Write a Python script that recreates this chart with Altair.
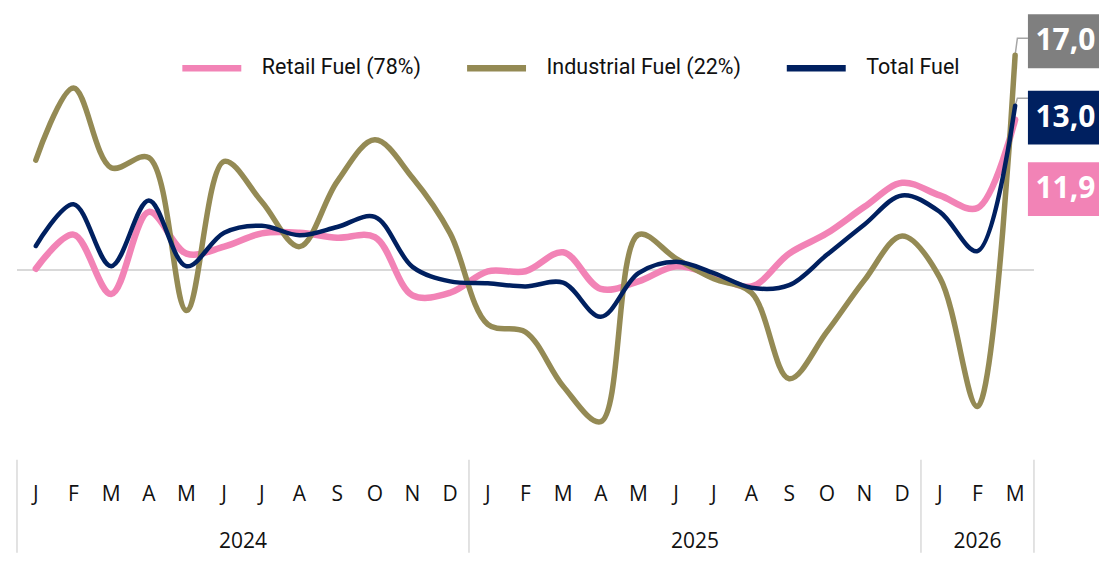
import altair as alt
import pandas as pd

# ---------------- data ----------------
months = ["J", "F", "M", "A", "M", "J", "J", "A", "S", "O", "N", "D",
          "J", "F", "M", "A", "M", "J", "J", "A", "S", "O", "N", "D",
          "J", "F", "M"]
years = ["2024", "2025", "2026"]
year_month_counts = [12, 12, 3]

series_names = ["Retail Fuel (78%)", "Industrial Fuel (22%)", "Total Fuel"]

retail = [0.1, 2.8, -1.9, 4.6, 1.3, 1.85, 2.9, 2.95, 2.55, 2.6, -2.0, -1.8,
          -0.1, -0.1, 1.4, -1.5, -0.9, 0.3, -0.4, -1.3, 1.3, 2.9, 5.0, 6.9,
          5.9, 4.9, 11.9]
industrial = [8.7, 14.4, 8.1, 8.9, -3.2, 8.6, 5.4, 1.85, 7.0, 10.3, 7.3, 2.9,
              -4.3, -4.9, -9.2, -12.0, 2.8, 0.9, -0.7, -1.8, -8.6, -4.9, -0.8, 2.7,
              -0.6, -10.8, 17.0]
total = [1.9, 5.2, 0.3, 5.5, 0.3, 2.95, 3.5, 2.75, 3.4, 4.2, 0.25, -0.9,
         -1.05, -1.3, -1.0, -3.7, -0.25, 0.65, -0.25, -1.4, -1.2, 1.2, 3.6, 5.9,
         4.6, 1.5, 13.0]

# ---------------- styles / layout ----------------
colors = ["#F283B6", "#948A54", "#002060"]
box_colors = ["#F283B6", "#7F7F7F", "#002060"]
widths = [6.5, 4.5, 5.0]

W, H = 1083, 545
step = 37.7
x_min = -0.5
x_max = x_min + W / step
px_per_unit = 12.65
zero_px = 262
y_max = zero_px / px_per_unit
y_min = -(H - zero_px) / px_per_unit

xscale = alt.Scale(domain=[x_min, x_max], nice=False, zero=False)
yscale = alt.Scale(domain=[y_min, y_max], nice=False, zero=False)

values = [retail, industrial, total]
rows = []
for name, vals in zip(series_names, values):
    for i, v in enumerate(vals):
        rows.append({"idx": i, "value": v, "series": name})
df = pd.DataFrame(rows)

n = len(months)
last = n - 1

X = lambda f: alt.X(f, scale=xscale, axis=None)
Y = lambda f: alt.Y(f, scale=yscale, axis=None)

# zero line
zero = alt.Chart(pd.DataFrame({"x": [x_min], "x2": [last + 0.5], "y": [0]})).mark_rule(
    color="#D9D9D9", strokeWidth=2
).encode(x=X("x:Q"), x2="x2:Q", y=Y("y:Q"))

# lines
lines = alt.Chart(df).mark_line(
    interpolate="catmull-rom", strokeCap="round", strokeJoin="round"
).encode(
    x=X("idx:Q"),
    y=Y("value:Q"),
    color=alt.Color(
        "series:N",
        scale=alt.Scale(domain=series_names, range=colors),
        sort=series_names,
        legend=alt.Legend(
            title=None, orient="none", direction="horizontal",
            legendX=162, legendY=27,
            symbolType="stroke", symbolSize=3481, symbolStrokeWidth=6.5,
            labelFont="Roboto", labelFontSize=21.5, labelColor="#111111",
            labelOffset=17, columnPadding=32, labelLimit=400,
        ),
    ),
    strokeWidth=alt.StrokeWidth(
        "series:N",
        scale=alt.Scale(domain=series_names, range=widths),
        legend=None,
    ),
)

# separators for the year groups
bounds = [x_min]
acc = -0.5
for c in year_month_counts:
    acc += c
    bounds.append(acc)
sep = alt.Chart(pd.DataFrame({"x": bounds})).mark_rule(
    color="#D9D9D9", strokeWidth=1.5
).encode(x=X("x:Q"), y=alt.value(452), y2=alt.value(H))

# month labels
month_df = pd.DataFrame({"idx": list(range(n)), "m": months})
month_txt = alt.Chart(month_df).mark_text(
    font="Open Sans", fontSize=21, color="#111111", baseline="middle"
).encode(x=X("idx:Q"), y=alt.value(487), text="m:N")

# year labels
centers = []
start = 0
for c in year_month_counts:
    centers.append(start + (c - 1) / 2)
    start += c
year_df = pd.DataFrame({"x": centers, "yr": years})
year_txt = alt.Chart(year_df).mark_text(
    font="Open Sans", fontSize=21, color="#111111", baseline="middle"
).encode(x=X("x:Q"), y=alt.value(534), text="yr:N")

# end labels (boxes stacked at right of the last point)
label_centers = {"Industrial Fuel (22%)": 18.1, "Total Fuel": 12.06, "Retail Fuel (78%)": 6.4}
half_h = 2.13
box_x0 = last + 0.34
box_x1 = x_max
lab_rows = []
for name, vals, bc in zip(series_names, values, box_colors):
    cy = label_centers[name]
    lab_rows.append({
        "series": name, "text": f"{vals[-1]:.1f}".replace(".", ","),
        "cy": cy, "y0": cy - half_h, "y1": cy + half_h,
        "x0": box_x0, "x1": box_x1, "xc": (box_x0 + box_x1) / 2 + 0.05, "bc": bc,
    })
lab_df = pd.DataFrame(lab_rows)

boxes = alt.Chart(lab_df).mark_rect().encode(
    x=X("x0:Q"), x2="x1:Q", y=Y("y0:Q"), y2="y1:Q",
    color=alt.Color("bc:N", scale=None, legend=None),
)
box_txt = alt.Chart(lab_df).mark_text(
    font="Open Sans", fontSize=30, fontWeight="bold", color="white", baseline="middle"
).encode(x=X("xc:Q"), y=Y("cy:Q"), text="text:N")

# leader lines from the last points to their boxes
lead_y = {"Industrial Fuel (22%)": 18.34, "Total Fuel": 13.6}
lead_rows = []
for name, vals in zip(series_names, values):
    if name in lead_y:
        ly = lead_y[name]
        lead_rows += [
            {"series": name, "o": 0, "x": last, "y": vals[-1]},
            {"series": name, "o": 1, "x": last + 0.06, "y": ly},
            {"series": name, "o": 2, "x": box_x0, "y": ly},
        ]
leaders = alt.Chart(pd.DataFrame(lead_rows)).mark_line(
    color="#A6A6A6", strokeWidth=1.5
).encode(x=X("x:Q"), y=Y("y:Q"), detail="series:N", order="o:Q")

chart = alt.layer(
    zero, sep, month_txt, year_txt, leaders, lines, boxes, box_txt
).properties(
    width=W, height=H,
    padding={"left": 8, "right": 0, "top": 0, "bottom": 0},
).configure_view(stroke=None).resolve_scale(color="independent")

chart.save("out.html", embed_options={"renderer": "svg", "actions": False})
